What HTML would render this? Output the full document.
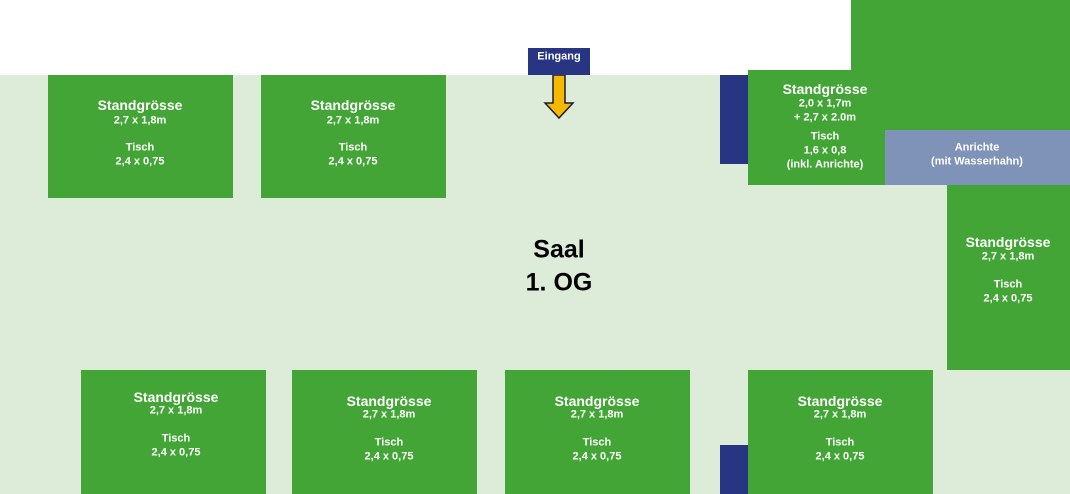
<!DOCTYPE html>
<html><head><meta charset="utf-8"><style>
html,body{margin:0;padding:0}
body{width:1070px;height:494px;position:relative;overflow:hidden;background:#fff;font-family:"Liberation Sans",sans-serif;color:#fff}
.r{position:absolute}
.g{background:#43a536}
.n{background:#283583}
.t{position:absolute;transform:translate(-50%,-50%);white-space:nowrap;font-weight:bold;font-size:11px;line-height:1}
.h{font-size:14px}
</style></head><body>
<div class="r" style="left:0;top:75px;width:1070px;height:419px;background:#dcecd8"></div>
<div class="r g" style="left:851px;top:0;width:219px;height:75px"></div>
<div class="r g" style="left:748px;top:70px;width:322px;height:115px"></div>
<div class="r" style="left:885px;top:130px;width:185px;height:55px;background:#7f93b8"></div>
<div class="r g" style="left:947px;top:185px;width:123px;height:185px"></div>
<div class="r n" style="left:720px;top:75px;width:28px;height:89px"></div>
<div class="r n" style="left:720px;top:445px;width:28px;height:49px"></div>
<div class="r g" style="left:48px;top:75px;width:185px;height:123px"></div>
<div class="r g" style="left:261px;top:75px;width:185px;height:123px"></div>
<div class="r g" style="left:81px;top:370px;width:185px;height:124px"></div>
<div class="r g" style="left:292px;top:370px;width:185px;height:124px"></div>
<div class="r g" style="left:505px;top:370px;width:185px;height:124px"></div>
<div class="r g" style="left:748px;top:370px;width:185px;height:124px"></div>
<div class="r n" style="left:528px;top:48px;width:62px;height:27px"></div>
<div class="t" style="left:559px;top:57px">Eingang</div>
<svg class="r" style="left:540px;top:75px" width="38" height="46"><polygon points="13,0 25,0 25,28 33,28 19,43 5,28 13,28" fill="#f7b800" stroke="#1c1c3c" stroke-width="1.5"/></svg>
<div class="t" style="left:559px;top:250px;font-size:25px;color:#000">Saal</div>
<div class="t" style="left:559px;top:283px;font-size:25px;color:#000">1. OG</div>

<div class="t h" style="left:140px;top:105px">Standgrösse</div><div class="t" style="left:140px;top:121px">2,7 x 1,8m</div><div class="t" style="left:140px;top:148px">Tisch</div><div class="t" style="left:140px;top:162px">2,4 x 0,75</div>
<div class="t h" style="left:353px;top:105px">Standgrösse</div><div class="t" style="left:353px;top:121px">2,7 x 1,8m</div><div class="t" style="left:353px;top:148px">Tisch</div><div class="t" style="left:353px;top:162px">2,4 x 0,75</div>

<div class="t h" style="left:825px;top:89px">Standgrösse</div><div class="t" style="left:825px;top:104px">2,0 x 1,7m</div><div class="t" style="left:825px;top:118px">+ 2,7 x 2.0m</div><div class="t" style="left:825px;top:137px">Tisch</div><div class="t" style="left:825px;top:151px">1,6 x 0,8</div><div class="t" style="left:825px;top:165px">(inkl. Anrichte)</div>
<div class="t" style="left:977px;top:148px">Anrichte</div><div class="t" style="left:977px;top:162px">(mit Wasserhahn)</div>

<div class="t h" style="left:1008px;top:242px">Standgrösse</div><div class="t" style="left:1008px;top:257px">2,7 x 1,8m</div><div class="t" style="left:1008px;top:285px">Tisch</div><div class="t" style="left:1008px;top:299px">2,4 x 0,75</div>

<div class="t h" style="left:176px;top:397px">Standgrösse</div><div class="t" style="left:176px;top:411px">2,7 x 1,8m</div><div class="t" style="left:176px;top:439px">Tisch</div><div class="t" style="left:176px;top:453px">2,4 x 0,75</div>
<div class="t h" style="left:389px;top:401px">Standgrösse</div><div class="t" style="left:389px;top:415px">2,7 x 1,8m</div><div class="t" style="left:389px;top:443px">Tisch</div><div class="t" style="left:389px;top:457px">2,4 x 0,75</div>
<div class="t h" style="left:597px;top:401px">Standgrösse</div><div class="t" style="left:597px;top:415px">2,7 x 1,8m</div><div class="t" style="left:597px;top:443px">Tisch</div><div class="t" style="left:597px;top:457px">2,4 x 0,75</div>
<div class="t h" style="left:840px;top:401px">Standgrösse</div><div class="t" style="left:840px;top:415px">2,7 x 1,8m</div><div class="t" style="left:840px;top:443px">Tisch</div><div class="t" style="left:840px;top:457px">2,4 x 0,75</div>
</body></html>
